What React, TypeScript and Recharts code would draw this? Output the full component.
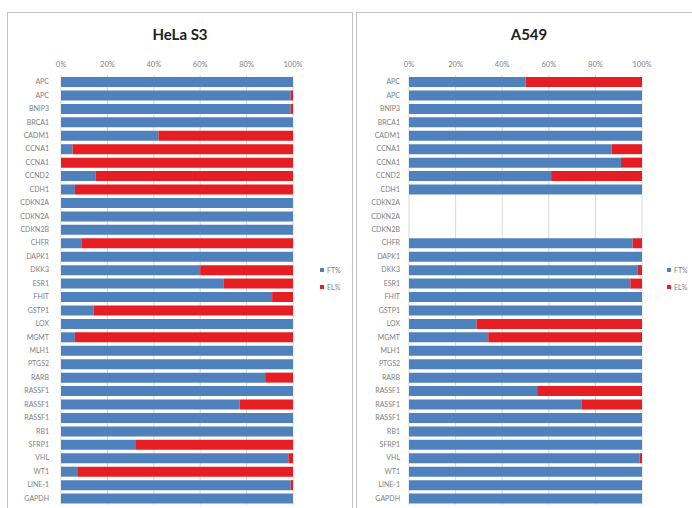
import { BarChart, Bar, XAxis, YAxis, CartesianGrid } from 'recharts';

const genes = [
  'APC', 'APC', 'BNIP3', 'BRCA1', 'CADM1', 'CCNA1', 'CCNA1', 'CCND2', 'CDH1',
  'CDKN2A', 'CDKN2A', 'CDKN2B', 'CHFR', 'DAPK1', 'DKK3', 'ESR1', 'FHIT', 'GSTP1',
  'LOX', 'MGMT', 'MLH1', 'PTGS2', 'RARB', 'RASSF1', 'RASSF1', 'RASSF1', 'RB1',
  'SFRP1', 'VHL', 'WT1', 'LINE-1', 'GAPDH',
];

const helaFt = [
  100, 99, 99, 100, 42, 5, 0, 15, 6,
  100, 100, 100, 9, 100, 60, 70, 91, 14,
  100, 6, 100, 100, 88, 100, 77, 100, 100,
  32, 98, 7, 99, 100,
];
const helaEl = [
  0, 1, 1, 0, 58, 95, 100, 85, 94,
  0, 0, 0, 91, 0, 40, 30, 9, 86,
  0, 94, 0, 0, 12, 0, 23, 0, 0,
  68, 2, 93, 1, 0,
];

const a549Ft = [
  50, 100, 100, 100, 100, 87, 91, 61, 100,
  null, null, null, 96, 100, 98, 95, 100, 100,
  29, 34, 100, 100, 100, 55, 74, 100, 100,
  100, 99, 100, 100, 100,
];
const a549El = [
  50, 0, 0, 0, 0, 13, 9, 39, 0,
  null, null, null, 4, 0, 2, 5, 0, 0,
  71, 66, 0, 0, 0, 45, 26, 0, 0,
  0, 1, 0, 0, 0,
];

const xTicks = [0, 20, 40, 60, 80, 100];

const BLUE = '#4F81BD';
const RED = '#E41E22';
const FONT = 'Lato, "Liberation Sans", sans-serif';

function build(ft: (number | null)[], el: (number | null)[]) {
  return genes.map((g, i) => ({ idx: i, gene: g, ft: ft[i], el: el[i] }));
}

function Panel({
  left,
  width,
  axisW,
  rightM,
  labelGap,
  ft,
  el,
}: {
  left: number;
  width: number;
  axisW: number;
  rightM: number;
  labelGap: number;
  ft: (number | null)[];
  el: (number | null)[];
}) {
  return (
    <div style={{ position: 'absolute', left, top: 0 }}>
      <BarChart
        width={width}
        height={508}
        layout="vertical"
        data={build(ft, el)}
        margin={{ top: 55, right: rightM, bottom: 3, left: 0 }}
        barSize={10}
      >
        <CartesianGrid horizontal={false} stroke="#d9d9d9" />
        <XAxis
          type="number"
          orientation="top"
          domain={[0, 100]}
          ticks={xTicks}
          tickFormatter={(v) => `${v}%`}
          height={20}
          axisLine={false}
          tickLine={false}
          tickMargin={2}
          tick={{ fontSize: 7.5, fill: '#7f7f7f', fontFamily: FONT }}
        />
        <YAxis
          type="category"
          dataKey="idx"
          width={axisW}
          interval={0}
          reversed={false}
          axisLine={false}
          tickLine={false}
          tickMargin={labelGap}
          tickFormatter={(i) => genes[i]}
          tick={{ fontSize: 7, fill: '#7f7f7f', fontFamily: FONT }}
        />
        <Bar dataKey="ft" stackId="a" fill={BLUE} isAnimationActive={false} />
        <Bar dataKey="el" stackId="a" fill={RED} isAnimationActive={false} />
      </BarChart>
    </div>
  );
}

function LegendBox({ left }: { left: number }) {
  const item = (color: string, label: string, top: number) => (
    <div
      style={{
        position: 'absolute',
        left,
        top,
        display: 'flex',
        alignItems: 'center',
        fontSize: 7,
        color: '#7f7f7f',
        fontFamily: FONT,
      }}
    >
      <span style={{ width: 4, height: 4, background: color, marginRight: 3, display: 'inline-block' }} />
      {label}
    </div>
  );
  return (
    <>
      {item(BLUE, 'FT%', 266)}
      {item(RED, 'EL%', 283)}
    </>
  );
}

export default function App() {
  const title = (text: string, center: number) => (
    <div
      style={{
        position: 'absolute',
        left: center - 60,
        width: 120,
        top: 25,
        textAlign: 'center',
        fontSize: 15,
        fontWeight: 700,
        fontFamily: FONT,
        color: '#222',
      }}
    >
      {text}
    </div>
  );
  return (
    <div
      style={{
        position: 'fixed',
        left: 0,
        top: 0,
        width: 692,
        height: 508,
        overflow: 'hidden',
        background: '#fff',
      }}
    >
      <div style={{ position: 'absolute', left: 7, top: 12, width: 344, height: 520, border: '1px solid #c4c4c4' }} />
      <div style={{ position: 'absolute', left: 356, top: 12, width: 360, height: 520, border: '1px solid #c4c4c4' }} />
      {title('HeLa S3', 180)}
      {title('A549', 529)}
      <Panel left={0} width={350} axisW={61} rightM={57} labelGap={6} ft={helaFt} el={helaEl} />
      <Panel left={350} width={342} axisW={59} rightM={50} labelGap={3} ft={a549Ft} el={a549El} />
      <LegendBox left={320} />
      <LegendBox left={667} />
    </div>
  );
}
